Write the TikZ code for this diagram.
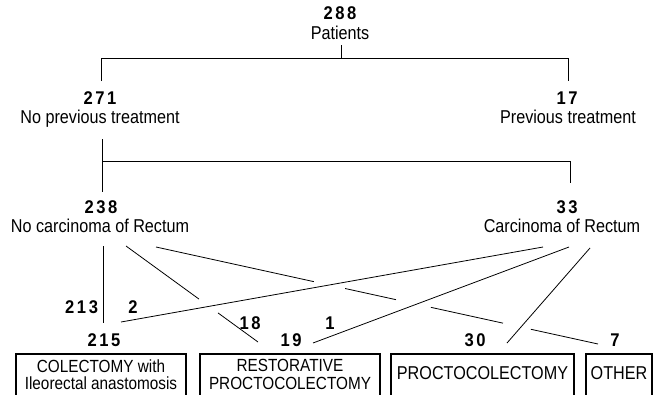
\documentclass[tikz,border=0pt]{standalone}
\usepackage{fontspec}
\setmainfont{Liberation Sans}[FakeStretch=0.87]
\newfontfamily\numfont{Liberation Sans}[LetterSpace=14,FakeStretch=0.9]
\usetikzlibrary{calc}
\begin{document}
\begin{tikzpicture}[x=1pt,y=-1pt,
  every node/.style={inner sep=0pt,outer sep=0pt},
  lbl/.style={font=\fontsize{18.6}{20}\selectfont,anchor=base},
  two/.style={font=\fontsize{17.6}{17.5}\selectfont,align=center,anchor=center},
  num/.style={font=\fontsize{18.4}{20}\selectfont\numfont\bfseries,anchor=base},
  conn/.style={line width=0.8pt},
  box/.style={draw,line width=1.3pt,anchor=north west,minimum height=80pt}]
\useasboundingbox (0,0) rectangle (661,394);
\clip (0,0) rectangle (661,394);
% level 1
\node[num] (n288) at (340,19) {288};
\node[lbl] (pat) at (340,39) {Patients};
\coordinate (a0) at (341,45);
\coordinate (a1) at (341,58);
\coordinate (al) at (101,58);
\coordinate (ar) at (568,58);
\coordinate (alb) at (101,81);
\coordinate (arb) at (568,81);
\draw[conn] (a0) -- (a1);
\draw[conn] (alb) -- (al) -- (ar) -- (arb);
% level 2
\node[num] (n271) at (100,104) {271};
\node[lbl] (npt) at (100,123) {No previous treatment};
\node[num] (n17) at (567,104) {17};
\node[lbl] (pt) at (568,123) {Previous treatment};
\coordinate (b0) at (102,139);
\coordinate (b1) at (102,192);
\coordinate (bh) at (102,161);
\coordinate (br) at (570,161);
\coordinate (brb) at (570,183);
\draw[conn] (b0) -- (b1);
\draw[conn] (bh) -- (br) -- (brb);
% level 3
\node[num] (n238) at (101,213) {238};
\node[lbl] (ncr) at (100,232) {No carcinoma of Rectum};
\node[num] (n33) at (567,213) {33};
\node[lbl] (cr) at (562,232) {Carcinoma of Rectum};
% counts
\node[num,anchor=base east] (n213) at (98,313) {213};
\node[num] (n2) at (133,313) {2};
\node[num] (n18) at (250,329) {18};
\node[num] (n1) at (330,329) {1};
\node[num] (n215) at (104,346) {215};
\node[num] (n19) at (291,346) {19};
\node[num] (n30) at (475,346) {30};
\node[num] (n7) at (615,346) {7};
% connector end points
\coordinate (v0) at (103,246);
\coordinate (v1) at (103,323);
\coordinate (p18a) at (126,246);
\coordinate (p18b) at (258,342);
\coordinate (p7a) at (156,247);
\coordinate (p7b) at (598,344);
\coordinate (p2a) at (543,247);
\coordinate (p2b) at (121,322);
\coordinate (p1a) at (569,247);
\coordinate (p1b) at (313,343);
\coordinate (p30a) at (590,248);
\coordinate (p30b) at (507,343);
\draw[conn] (v0) -- (v1);
\draw[conn] (p18a) -- ($(p18a)!0.553!(p18b)$);
\draw[conn] ($(p18a)!0.697!(p18b)$) -- (p18b);
\draw[conn] (p7a) -- ($(p7a)!0.357!(p7b)$);
\draw[conn] ($(p7a)!0.428!(p7b)$) -- ($(p7a)!0.543!(p7b)$);
\draw[conn] ($(p7a)!0.622!(p7b)$) -- ($(p7a)!0.785!(p7b)$);
\draw[conn] ($(p7a)!0.848!(p7b)$) -- (p7b);
\draw[conn] (p2a) -- (p2b);
\draw[conn] (p1a) -- (p1b);
\draw[conn] (p30a) -- (p30b);
% boxes
\node[box,minimum width=170pt] (bx1) at (16,354) {};
\node[box,minimum width=180pt] (bx2) at (200,354) {};
\node[box,minimum width=183pt] (bx3) at (391,354) {};
\node[box,minimum width=66pt] (bx4) at (586,354) {};
\node[two] (t1) at (101,374.5) {COLECTOMY with\\Ileorectal anastomosis};
\node[two] (t2) at (290,374.5) {RESTORATIVE\\PROCTOCOLECTOMY};
\node[lbl] (t3) at (482.5,379) {PROCTOCOLECTOMY};
\node[lbl] (t4) at (619,379) {OTHER};
\end{tikzpicture}
\end{document}
